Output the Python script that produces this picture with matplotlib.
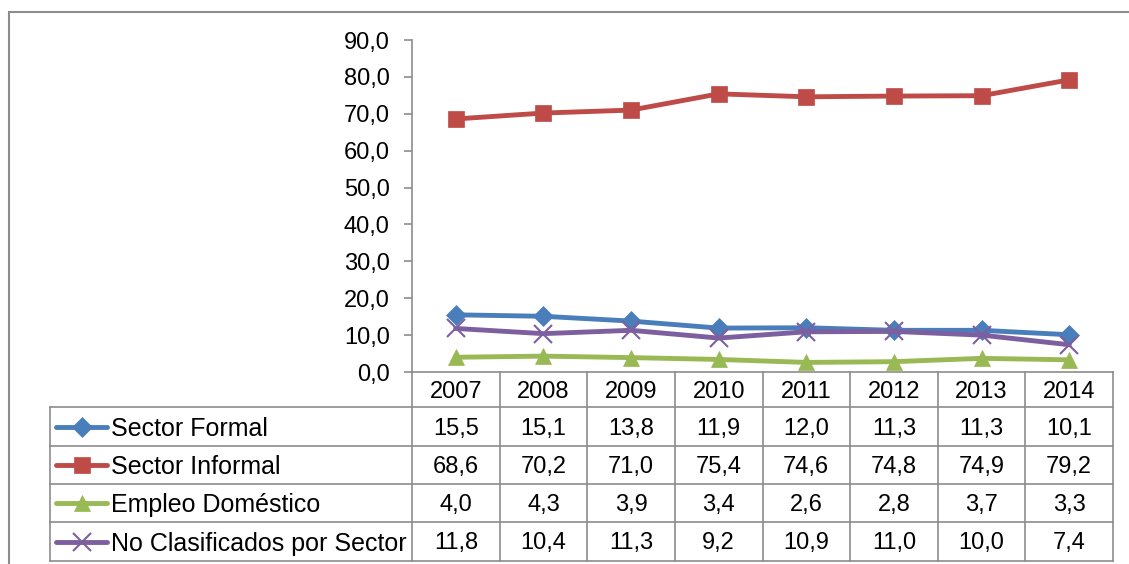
import numpy as np
import matplotlib.pyplot as plt
from matplotlib.patches import Rectangle
from matplotlib.lines import Line2D

plt.rcParams['font.family'] = ['Liberation Sans', 'DejaVu Sans']

years = ['2007', '2008', '2009', '2010', '2011', '2012', '2013', '2014']
series_names = ['Sector Formal', 'Sector Informal', 'Empleo Doméstico',
                'No Clasificados por Sector']
formal = [15.5, 15.1, 13.8, 11.9, 12.0, 11.3, 11.3, 10.1]
informal = [68.6, 70.2, 71.0, 75.4, 74.6, 74.8, 74.9, 79.2]
domestico = [4.0, 4.3, 3.9, 3.4, 2.6, 2.8, 3.7, 3.3]
no_clasif = [11.8, 10.4, 11.3, 9.2, 10.9, 11.0, 10.0, 7.4]
yticks = [0, 10, 20, 30, 40, 50, 60, 70, 80, 90]

series = [formal, informal, domestico, no_clasif]
colors = ['#4A7EBB', '#BE4B48', '#98B954', '#7D5FA0']
markers = ['D', 's', '^', 'x']
msizes = [10, 11, 11, 13]
FS = 17

W, H = 1129, 564
fig = plt.figure(figsize=(W / 100, H / 100), dpi=100)

def fx(px):
    return px / W

def fy(py):
    return 1 - py / H

# outer chart border
fig.patches.append(Rectangle((fx(9), -0.05), 1.1, fy(12) + 0.05, transform=fig.transFigure,
                             fill=False, edgecolor='#8c8c8c', lw=1.5))

ax_l, ax_r, ax_b, ax_t = 412, 1113, 372, 40
ax = fig.add_axes([fx(ax_l), fy(ax_b), fx(ax_r) - fx(ax_l), fy(ax_t) - fy(ax_b)])
x = np.arange(len(years))
for vals, c, m, ms in zip(series, colors, markers, msizes):
    ax.plot(x, vals, color=c, lw=3.5, marker=m, markersize=ms,
            markeredgewidth=1.5 if m == 'x' else 0.5, markeredgecolor=c, clip_on=False)

ax.set_xlim(-0.5, len(years) - 0.5)
ax.set_ylim(0, 90)
ax.set_yticks(yticks)
ax.set_yticklabels([f'{v:.1f}'.replace('.', ',') for v in yticks], fontsize=FS)
ax.set_xticks([])
for s in ['top', 'right']:
    ax.spines[s].set_visible(False)
ax.spines['left'].set_color('#8c8c8c')
ax.spines['bottom'].set_color('#8c8c8c')
ax.spines['left'].set_linewidth(1.2)
ax.spines['bottom'].set_linewidth(1.2)
ax.tick_params(axis='y', direction='out', length=6, color='#8c8c8c', width=1.2, pad=10)

# data table below the axis
gc = '#8c8c8c'
rows = [372, 407, 446, 484, 522, 561]
tab_left = 50

def hline(x0, x1, y):
    fig.add_artist(Line2D([fx(x0), fx(x1)], [fy(y), fy(y)], color=gc, lw=1.2,
                          transform=fig.transFigure))

def vline(xp, y0, y1):
    fig.add_artist(Line2D([fx(xp), fx(xp)], [fy(y0), fy(y1)], color=gc, lw=1.2,
                          transform=fig.transFigure))

col_w = (ax_r - ax_l) / len(years)
for r in rows[1:]:
    hline(tab_left, ax_r, r)
vline(tab_left, rows[1], rows[-1])
for i in range(len(years) + 1):
    vline(ax_l + i * col_w, rows[0], rows[-1])

for i, yr in enumerate(years):
    fig.text(fx(ax_l + (i + 0.5) * col_w), fy((rows[0] + rows[1]) / 2 + 2), yr,
             ha='center', va='center', fontsize=FS)

for j, (name, vals, c, m, ms) in enumerate(zip(series_names, series, colors, markers, msizes)):
    yc_px = (rows[j + 1] + rows[j + 2]) / 2
    yc = fy(yc_px)
    yt = fy(yc_px + 2)
    fig.add_artist(Line2D([fx(56), fx(107)], [yc, yc], color=c, lw=3.5,
                          solid_capstyle='round', transform=fig.transFigure))
    fig.add_artist(Line2D([fx(82)], [yc], color=c, marker=m, markersize=ms,
                          markeredgewidth=1.5 if m == 'x' else 0.5, markeredgecolor=c,
                          transform=fig.transFigure))
    fig.text(fx(111), yt, name, ha='left', va='center', fontsize=18)
    for i, v in enumerate(vals):
        fig.text(fx(ax_l + (i + 0.5) * col_w), yt, f'{v:.1f}'.replace('.', ','),
                 ha='center', va='center', fontsize=FS)

fig.savefig('out.png', dpi=100)
